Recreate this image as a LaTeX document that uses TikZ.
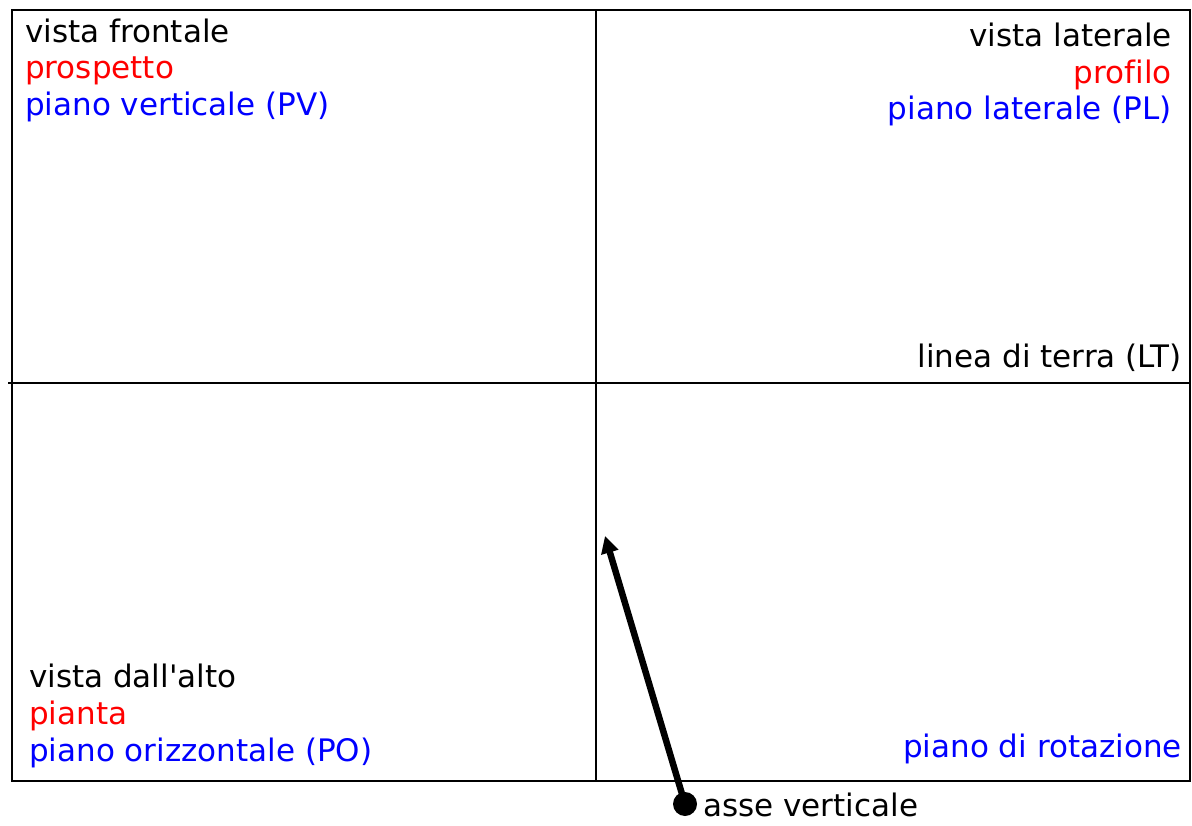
\documentclass[tikz,border=0pt]{standalone}
\usepackage{fontspec}
\setmainfont{DejaVu Sans}[Ligatures={NoCommon}]
\usetikzlibrary{arrows.meta}
\begin{document}
\begin{tikzpicture}[x=1pt,y=-1pt,
  lbl/.style={inner sep=0pt, font=\fontsize{31}{37}\selectfont},
  lblL/.style={lbl, anchor=base west},
  lblR/.style={lbl, anchor=base east},
  red/.style={text={rgb,255:red,255;green,0;blue,0}},
  blu/.style={text={rgb,255:red,0;green,0;blue,255}},
  frame/.style={draw=black, line width=2pt},
  divider/.style={draw=black, line width=1.6pt},
  axisarrow/.style={line width=6.5pt, -{Triangle[length=17pt,width=17pt]}}]
\useasboundingbox (0,0) rectangle (1192,826);
\coordinate (tl) at (12,10);
\coordinate (br) at (1190,781);
\coordinate (vtop) at (596,10);
\coordinate (vbot) at (596,781);
\coordinate (hl) at (8,383);
\coordinate (hr) at (1190,383);
\draw[frame] (tl) rectangle (br);
\draw[divider] (vtop) -- (vbot);
\draw[frame] (hl) -- (hr);
% top-left
\node[lblL] (vf) at (25,43) {vista frontale};
\node[lblL,red] (pr) at (25,79) {prospetto};
\node[lblL,blu] (pv) at (25,116) {piano verticale (PV)};
% top-right
\node[lblR] (vl) at (1172,47) {vista laterale};
\node[lblR,red] (pf) at (1172,84) {profilo};
\node[lblR,blu] (pl) at (1172,120) {piano laterale (PL)};
\node[lblR] (lt) at (1182,367) {linea di terra (LT)};
% bottom-left
\node[lblL] (va) at (29,687) {vista dall\textquotesingle alto};
\node[lblL,red] (pa) at (29,724) {pianta};
\node[lblL,blu] (po) at (29,761) {piano orizzontale (PO)};
% bottom-right
\node[lblR,blu] (pdr) at (1182,757) {piano di rotazione};
% axis arrow
\node[circle, fill=black, minimum size=24pt, inner sep=0pt] (dot) at (685,804) {};
\coordinate (tip) at (605,536);
\draw[axisarrow] (dot.center) -- (tip);
\node[lblL] (asse) at (703,816) {asse verticale};
\end{tikzpicture}
\end{document}
